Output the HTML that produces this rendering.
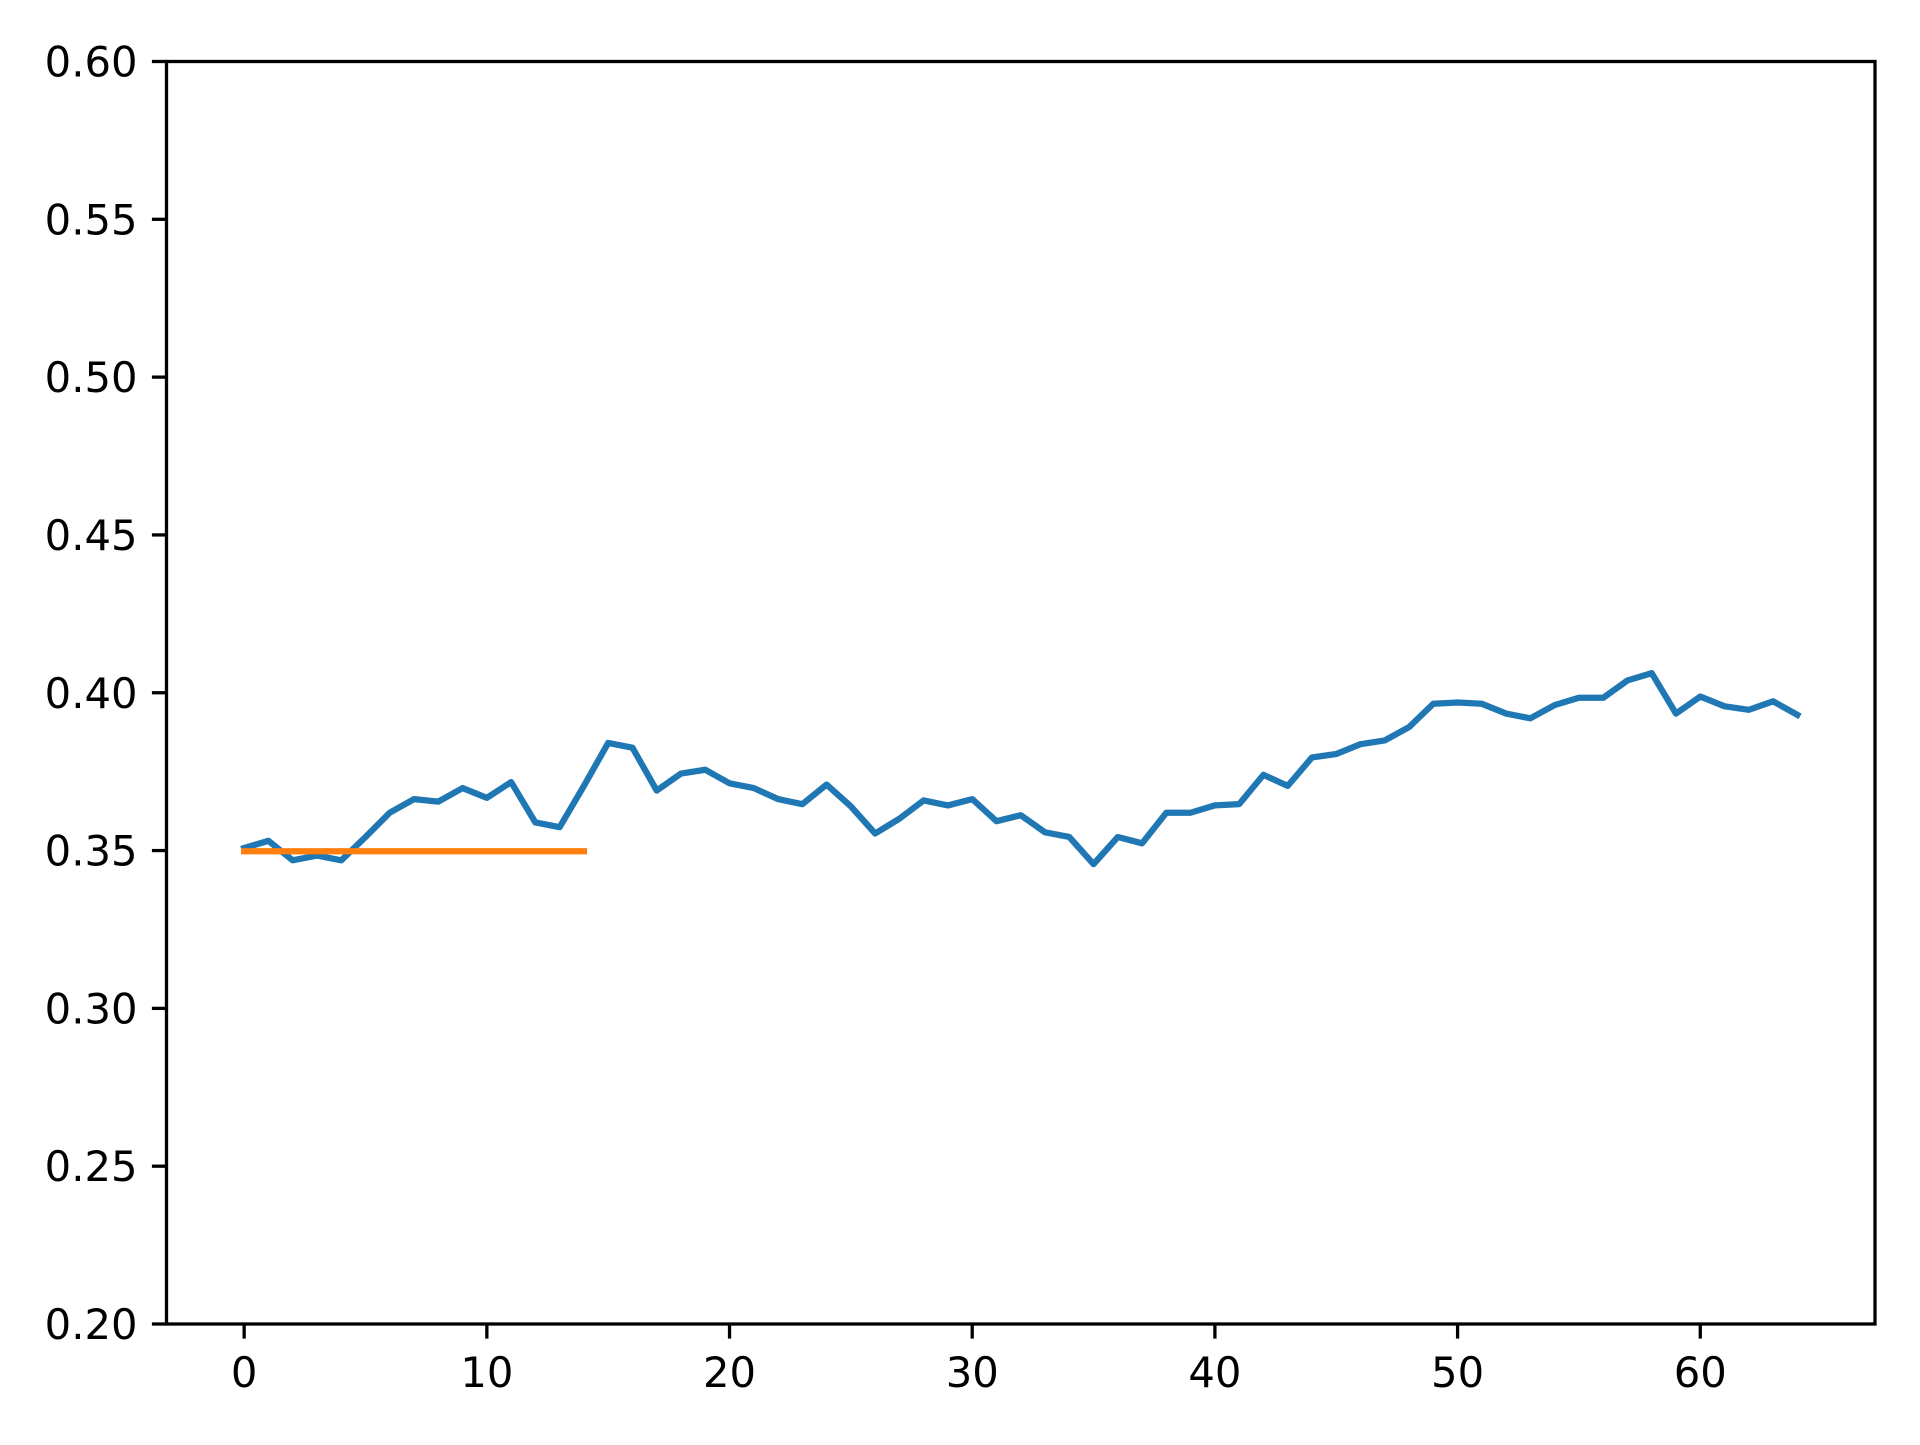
<!DOCTYPE html>
<html><head><meta charset="utf-8"><style>
html,body{margin:0;padding:0;background:#fff;}
svg text{font-family:"DejaVu Sans","Liberation Sans",sans-serif;font-size:41.7px;fill:#000;}
</style></head><body>
<svg id="chart" width="1920" height="1440" xmlns="http://www.w3.org/2000/svg">
<rect width="1920" height="1440" fill="#fff"/>
<g id="plot"></g>
</svg>
<script>
const xTicks = [0,10,20,30,40,50,60];
const yTicks = [0.20,0.25,0.30,0.35,0.40,0.45,0.50,0.55,0.60];
const seriesA = [0.3508,0.3531,0.3469,0.3484,0.3469,0.3543,0.362,0.3663,0.3655,0.3698,0.3667,0.3717,0.3589,0.3574,0.3705,0.3841,0.3826,0.369,0.3744,0.3756,0.3713,0.3698,0.3663,0.3647,0.3709,0.364,0.3554,0.3601,0.3659,0.3643,0.3663,0.3593,0.3612,0.3558,0.3543,0.3457,0.3543,0.3523,0.362,0.362,0.3643,0.3647,0.374,0.3705,0.3795,0.3806,0.3837,0.3849,0.3891,0.3965,0.3969,0.3965,0.3934,0.3919,0.3961,0.3984,0.3984,0.4039,0.4062,0.3934,0.3988,0.3957,0.3946,0.3973,0.393];
const baselineValue = [0.3498];
const baselineRange = [0,14];

const L=166.5,R=1875,T=61.5,B=1324;
const xMin=-3.2,xMax=67.2,yMin=0.2,yMax=0.6;
const sx=v=>L+(v-xMin)/(xMax-xMin)*(R-L);
const sy=v=>B-(v-yMin)/(yMax-yMin)*(B-T);
const g=document.getElementById('plot');
const NS='http://www.w3.org/2000/svg';
function mk(t,a){const e=document.createElementNS(NS,t);for(const k in a)e.setAttribute(k,a[k]);g.appendChild(e);return e;}

xTicks.forEach(v=>{
  const t=mk('line',{x1:sx(v),x2:sx(v),y1:B,y2:B+14.6,stroke:'#000','stroke-width':3.3});
  
  
  const l=mk('text',{x:sx(v),y:B+63,'text-anchor':'middle'});l.textContent=String(v);
  
  
});
yTicks.forEach(v=>{
  const t=mk('line',{x1:L-14.6,x2:L,y1:sy(v),y2:sy(v),stroke:'#000','stroke-width':3.3});
  
  
  const l=mk('text',{x:L-29,y:sy(v)+15,'text-anchor':'end'});l.textContent=v.toFixed(2);
  
  
});

const pa=mk('polyline',{points:seriesA.map((v,i)=>sx(i)+','+sy(v)).join(' '),fill:'none',stroke:'#1f77b4','stroke-width':6.25,'stroke-linejoin':'round','stroke-linecap':'square'});


const pb=mk('line',{x1:sx(baselineRange[0]),x2:sx(baselineRange[1]),y1:sy(baselineValue[0]),y2:sy(baselineValue[0]),stroke:'#ff7f0e','stroke-width':6.25,'stroke-linecap':'square'});



const fr=mk('rect',{x:L,y:T,width:R-L,height:B-T,fill:'none',stroke:'#000','stroke-width':3.3});


</script>
</body></html>
